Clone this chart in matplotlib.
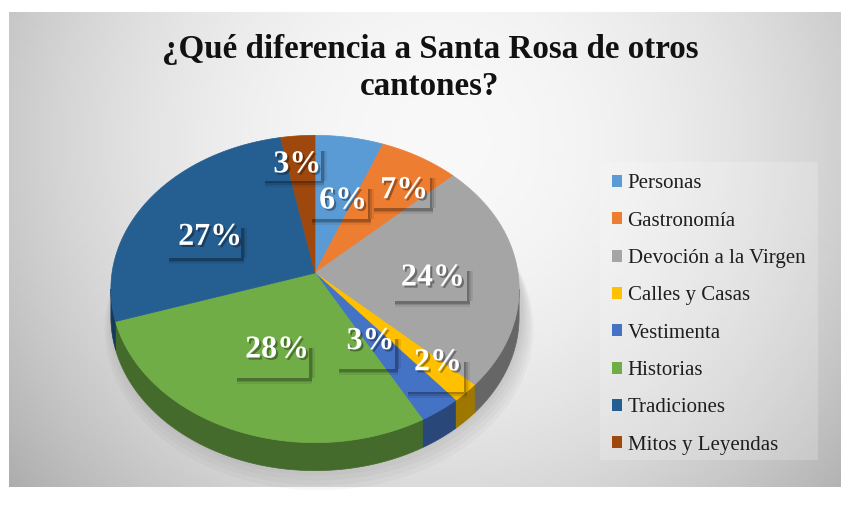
import numpy as np
import matplotlib.pyplot as plt
from matplotlib import patheffects as pe
from matplotlib.patches import Patch, Rectangle

# datos
labels = ['Personas', 'Gastronomía', 'Devoción a la Virgen', 'Calles y Casas',
          'Vestimenta', 'Historias', 'Tradiciones', 'Mitos y Leyendas']
values = [6, 7, 24, 2, 3, 28, 27, 3]
colors = ['#5B9BD5', '#ED7D31', '#A5A5A5', '#FFC000',
          '#4472C4', '#70AD47', '#255E91', '#9E480E']
title = '¿Qué diferencia a Santa Rosa de otros\ncantones?'

# ajustes de las etiquetas (pixeles) respecto a la posicion calculada
nudges = [(5, 19), (19, -5), (-14, 5), (28, 14), (-23, -18), (14, -21), (5, 13), (-6, -16)]

W, H = 841, 507
FONT = 'Liberation Serif'

fig = plt.figure(figsize=(W / 100, H / 100), dpi=100)
fig.patch.set_facecolor('white')
ax = fig.add_axes([0, 0, 1, 1])

# fondo con degradado
gx, gy = np.meshgrid(np.linspace(9, 841, 200), np.linspace(12, 487, 120))
d2 = ((gx - 440) / 420) ** 2 + ((gy - 140) / 420) ** 2
g = np.clip(0.975 - 0.17 * d2, 0, 1)
ax.imshow(np.dstack([g, g, g]), extent=(9, 841, 487, 12), origin='upper',
          aspect='auto', zorder=0)

# pastel 3D con perspectiva
cx, cy = 315, 273
rx, ry = 203, 152
k = 0.104
depth = 28


def proj(r, t):
    u = r * np.cos(t)
    v = r * np.sin(t)
    dd = 1 + k * v
    return cx + rx * u / dd, cy - ry * v / dd


def darker(c, f):
    c = np.array(plt.matplotlib.colors.to_rgb(c))
    return tuple(c * f)


total = float(sum(values))
bounds = np.deg2rad(90 - 360 * np.concatenate([[0], np.cumsum(values)]) / total)

# sombra bajo el pastel
tt = np.linspace(0, 2 * np.pi, 300)
for i, s in enumerate(np.linspace(1.05, 1.0, 6)):
    sx, sy = proj(s, tt)
    ax.fill(sx + 4, sy + depth + 10 - 3 * i, color='0.35', alpha=0.045, lw=0, zorder=1)

# paredes laterales visibles
vis_hi = -np.arcsin(k)
vis_lo = -np.pi + np.arcsin(k)
for i in range(len(values)):
    t0, t1 = bounds[i], bounds[i + 1]
    a = max(t1, vis_lo)
    b = min(t0, vis_hi)
    if a >= b:
        continue
    t = np.linspace(b, a, 60)
    px, py = proj(1.0, t)
    xs = np.concatenate([px, px[::-1]])
    ys = np.concatenate([py, py[::-1] + depth])
    ax.fill(xs, ys, color=darker(colors[i], 0.62), lw=0.5,
            ec=darker(colors[i], 0.62), zorder=2)

# caras superiores
for i in range(len(values)):
    t = np.linspace(bounds[i], bounds[i + 1], 80)
    px, py = proj(1.0, t)
    xs = np.concatenate([[cx], px])
    ys = np.concatenate([[cy], py])
    ax.fill(xs, ys, color=colors[i], lw=0.5, ec=colors[i], zorder=3)

# etiquetas de porcentaje
renderer = fig.canvas.get_renderer()
for i, v in enumerate(values):
    mid = (bounds[i] + bounds[i + 1]) / 2
    lx, ly = proj(0.65, mid)
    lx += nudges[i][0]
    ly += nudges[i][1]
    txt = ax.text(lx, ly, f'{v / total * 100:.0f}%', ha='center', va='center',
                  color='white', fontsize=23, weight='bold', family=FONT, zorder=6,
                  path_effects=[pe.withSimplePatchShadow(offset=(1.5, -1.5),
                                                         shadow_rgbFace='k', alpha=0.35)])
    bb = txt.get_window_extent(renderer)
    x0, x1 = bb.x0 - 5, bb.x1 + 6
    y0, y1 = H - bb.y1 - 1, H - bb.y0 + 3
    for w, al in [(6, 0.07), (4, 0.12), (2.5, 0.18)]:
        ax.add_patch(Rectangle((x0 + 3, y1), x1 - x0, w, color='k', alpha=al,
                               lw=0, zorder=5))
        ax.add_patch(Rectangle((x1, y0 + 3), w, y1 - y0 - 3, color='k', alpha=al,
                               lw=0, zorder=5))

# titulo
ax.text(430, 68, title, ha='center', va='center', fontsize=23.8, weight='bold',
        family=FONT, color='#111111', linespacing=1.25, zorder=6)

# leyenda
ax.add_patch(Rectangle((600, 162), 218, 298, facecolor='white', alpha=0.2,
                       lw=0, zorder=1))
handles = [Patch(facecolor=c, edgecolor='none') for c in colors]
ax.legend(handles, labels, loc='center left', bbox_to_anchor=(612 / W, 1 - 314.5 / H),
          bbox_transform=fig.transFigure, frameon=False,
          prop={'family': FONT, 'size': 15}, labelcolor='#1e1e1e',
          handlelength=0.5, handleheight=0.5, handletextpad=0.25,
          labelspacing=0.88, borderpad=0, borderaxespad=0)

ax.set_xlim(0, W)
ax.set_ylim(H, 0)
ax.axis('off')

fig.savefig('out.png', dpi=100, facecolor='white')
